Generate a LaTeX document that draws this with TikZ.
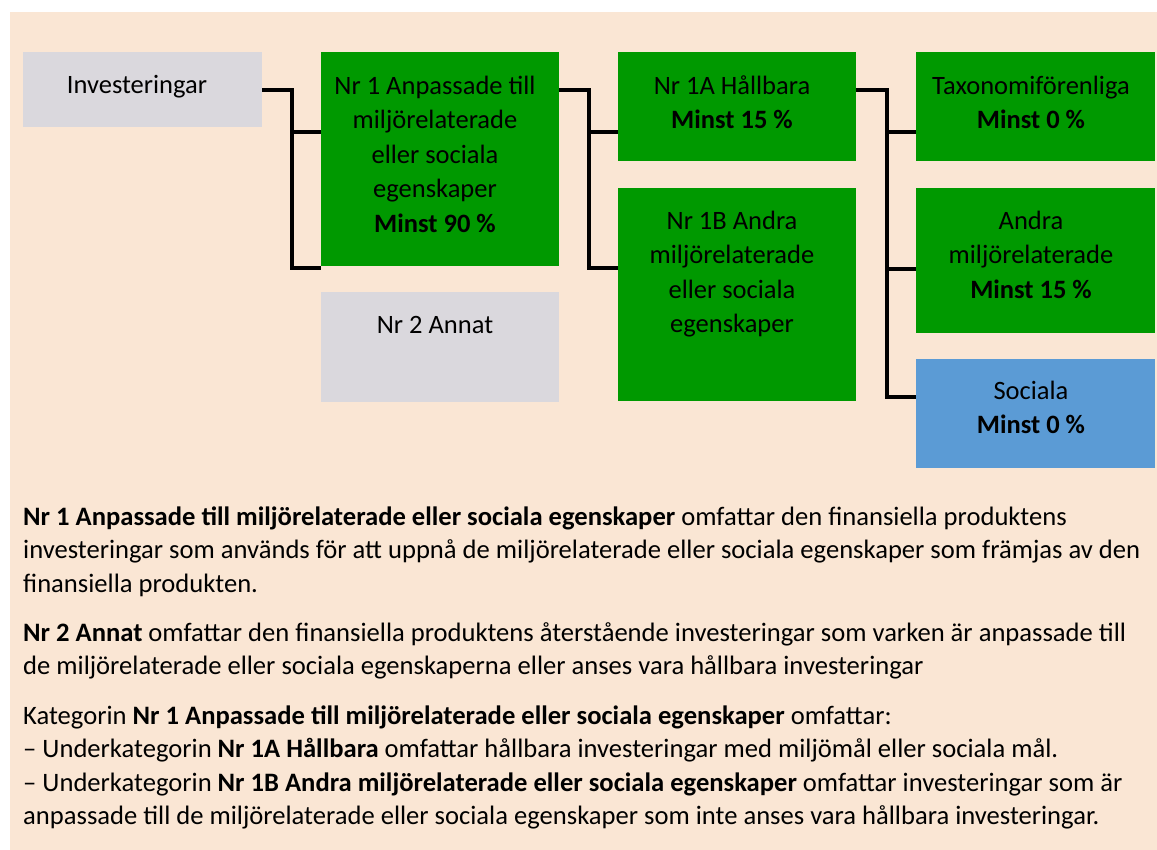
\documentclass[tikz,border=0pt]{standalone}
\usepackage{fontspec}
\setmainfont{Carlito}
\definecolor{peach}{HTML}{FAE6D4}
\definecolor{boxgreen}{HTML}{009900}
\definecolor{boxgray}{HTML}{DAD8DD}
\definecolor{boxblue}{HTML}{5B9BD5}
\newcommand{\fl}{\rule{0pt}{24pt}}
\tikzset{
  boxbase/.style={draw=none, inner sep=0pt, outer sep=0pt, anchor=north west},
  greenbox/.style={boxbase, fill=boxgreen},
  graybox/.style={boxbase, fill=boxgray},
  bluebox/.style={boxbase, fill=boxblue},
  boxtext/.style={anchor=north, align=center, inner sep=0pt, font=\fontsize{26.5}{34.5}\selectfont},
  para/.style={anchor=north west, align=left, inner sep=0pt, font=\fontsize{26.6}{33.5}\selectfont},
  conn/.style={draw=black, line width=4pt}
}
\begin{document}
\begin{tikzpicture}[x=1pt,y=-1pt]
\useasboundingbox (0,0) rectangle (1157,850);
\fill[white] (0,0) rectangle (1157,850);
\fill[peach] (10,12) rectangle (1157,850);

% boxes
\node[graybox, minimum width=239pt, minimum height=75pt] (inv) at (23,52) {};
\node[greenbox, minimum width=238pt, minimum height=214pt] (n1) at (321,52) {};
\node[graybox, minimum width=238pt, minimum height=110pt] (n2) at (321,292) {};
\node[greenbox, minimum width=238pt, minimum height=109pt] (n1a) at (618,52) {};
\node[greenbox, minimum width=238pt, minimum height=213pt] (n1b) at (618,188) {};
\node[greenbox, minimum width=239pt, minimum height=109pt] (tax) at (916,52) {};
\node[greenbox, minimum width=239pt, minimum height=145pt] (andra) at (916,188) {};
\node[bluebox, minimum width=239pt, minimum height=109pt] (soc) at (916,359) {};

% box texts (first baseline = north + 24)
\node[boxtext] (tinv) at (137,69) {\fl Investeringar};
\node[boxtext] (tn1) at (435,70) {\fl Nr 1 Anpassade till\\miljörelaterade\\eller sociala\\egenskaper\\\textbf{Minst 90 \%}};
\node[boxtext] (tn2) at (435,309) {\fl Nr 2 Annat};
\node[boxtext] (tn1a) at (732,70) {\fl Nr 1A Hållbara\\\textbf{Minst 15 \%}};
\node[boxtext] (tn1b) at (732,205) {\fl Nr 1B Andra\\miljörelaterade\\eller sociala\\egenskaper};
\node[boxtext] (ttax) at (1031,70) {\fl Taxonomiförenliga\\\textbf{Minst 0 \%}};
\node[boxtext] (tandra) at (1031,205) {\fl Andra\\miljörelaterade\\\textbf{Minst 15 \%}};
\node[boxtext] (tsoc) at (1031,375) {\fl Sociala\\\textbf{Minst 0 \%}};

% connector junctions
\coordinate (j1) at (292,90);
\coordinate (j1b) at (292,268);
\coordinate (j2) at (589,90);
\coordinate (j2b) at (589,268);
\coordinate (j3) at (887,90);
\coordinate (j3b) at (887,397);

\draw[conn] (inv.east |- j1) -- (j1) -- (j1b) -- (n1.west |- j1b);
\draw[conn] (j1 |- 0,132) -- (n1.west |- 0,132);

\draw[conn] (n1.east |- j2) -- (j2) -- (j2b) -- (n1b.west |- j2b);
\draw[conn] (j2 |- 0,132) -- (n1a.west |- 0,132);

\draw[conn] (n1a.east |- j3) -- (j3) -- (j3b) -- (soc.west |- j3b);
\draw[conn] (j3 |- 0,132) -- (tax.west |- 0,132);
\draw[conn] (j3 |- 0,269) -- (andra.west |- 0,269);

% explanatory text (first baseline = north + 24)
\node[para] (p1) at (23,501) {\fl\textbf{Nr 1 Anpassade till miljörelaterade eller sociala egenskaper} omfattar den finansiella produktens\\investeringar som används för att uppnå de miljörelaterade eller sociala egenskaper som främjas av den\\finansiella produkten.};
\node[para] (p2) at (23,617) {\fl\textbf{Nr 2 Annat} omfattar den finansiella produktens återstående investeringar som varken är anpassade till\\de miljörelaterade eller sociala egenskaperna eller anses vara hållbara investeringar};
\node[para] (p3) at (23,700) {\fl Kategorin \textbf{Nr 1 Anpassade till miljörelaterade eller sociala egenskaper} omfattar:\\– Underkategorin \textbf{Nr 1A Hållbara} omfattar hållbara investeringar med miljömål eller sociala mål.\\– Underkategorin \textbf{Nr 1B Andra miljörelaterade eller sociala egenskaper} omfattar investeringar som är\\anpassade till de miljörelaterade eller sociala egenskaper som inte anses vara hållbara investeringar.};
\end{tikzpicture}
\end{document}
